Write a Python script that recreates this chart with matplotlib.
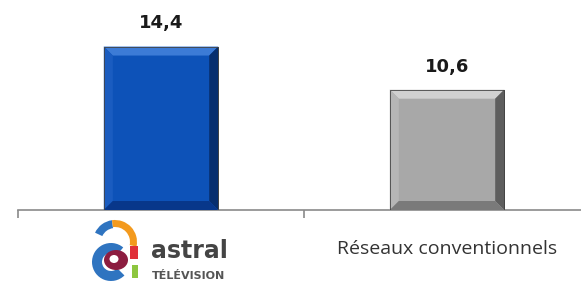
import matplotlib
matplotlib.use("Agg")
import matplotlib.pyplot as plt
from matplotlib.patches import Polygon, Wedge, Rectangle, Ellipse

categories = ["astral", "Réseaux conventionnels"]
values = [14.4, 10.6]
value_labels = ["14,4", "10,6"]

W, H = 581, 284
fig = plt.figure(figsize=(W / 100, H / 100), dpi=100)
# axes spans from x=18px, each category is 286px wide
ax = fig.add_axes([18 / W, 74 / H, 572 / W, 210 / H])
ax.set_xlim(-0.5, 1.5)
ax.set_ylim(0, 18.5)

face = ["#0D52B8", "#A8A8A8"]
light = ["#3C7BD6", "#D0D0D0"]
side_l = ["#1A5CC0", "#B6B6B6"]
dark = ["#072E6E", "#5E5E5E"]
bottom = ["#08378A", "#7A7A7A"]
bw = 0.40

bars = ax.bar(range(len(values)), values, width=bw, color=face, edgecolor="#333333",
              linewidth=0.6, zorder=2)

fig.canvas.draw()
inv = ax.transData.inverted()
bev = 9  # bevel in pixels
p0 = inv.transform((0, 0))
p1 = inv.transform((bev, bev))
bx, by = p1[0] - p0[0], p1[1] - p0[1]

for i, b in enumerate(bars):
    x0, y0 = b.get_x(), 0
    x1, y1 = x0 + b.get_width(), b.get_height()
    polys = [
        ([(x0, y1), (x1, y1), (x1 - bx, y1 - by), (x0 + bx, y1 - by)], light[i]),
        ([(x0, y0), (x0 + bx, y0 + by), (x0 + bx, y1 - by), (x0, y1)], side_l[i]),
        ([(x1, y0), (x1, y1), (x1 - bx, y1 - by), (x1 - bx, y0 + by)], dark[i]),
        ([(x0, y0), (x1, y0), (x1 - bx, y0 + by), (x0 + bx, y0 + by)], bottom[i]),
    ]
    for pts, c in polys:
        ax.add_patch(Polygon(pts, closed=True, facecolor=c, edgecolor="none", zorder=3))
    ax.add_patch(Rectangle((x0, y0), x1 - x0, y1, facecolor="none",
                           edgecolor="#444444", linewidth=0.6, zorder=4))
    ax.annotate(value_labels[i], (b.get_x() + b.get_width() / 2, y1),
                xytext=(0, 13), textcoords="offset points", ha="center", va="baseline",
                fontsize=13, fontweight="bold", color="#1a1a1a")

for s in ["top", "right", "left"]:
    ax.spines[s].set_visible(False)
ax.spines["bottom"].set_color("#8a8a8a")
ax.spines["bottom"].set_linewidth(1.2)
ax.set_yticks([])
ax.set_xticks([-0.5, 0.5])
ax.set_xticklabels([])
ax.tick_params(axis="x", length=6, color="#8a8a8a", width=1.2)

# second category label
ax.text(1, -3.4, categories[1], ha="center", va="center", fontsize=14,
        family="Open Sans", color="#333333")

# astral logo
lg = fig.add_axes([0, 0, 1, 1], zorder=5)
lg.set_xlim(0, W)
lg.set_ylim(H, 0)
lg.axis("off")
# hook: blue left part, orange arc over the top and down the stem
lg.add_patch(Wedge((115, 242), 22, 205, 262, width=8, facecolor="#2F74C0", edgecolor="none"))
lg.add_patch(Wedge((115, 242), 22, 262, 372, width=7, facecolor="#F39A1E", edgecolor="none"))
# bowl
lg.add_patch(Wedge((111, 262), 19, 45, 310, width=10, facecolor="#2F74C0", edgecolor="none"))
lg.add_patch(Ellipse((116, 260), 24, 20, facecolor="#8C1D40", edgecolor="none"))
lg.add_patch(Ellipse((114, 259), 9, 8, facecolor="white", edgecolor="none"))
# stem
lg.add_patch(Rectangle((130, 246), 8, 13, facecolor="#E0313A", edgecolor="none"))
lg.add_patch(Rectangle((132, 265), 6, 13, facecolor="#8DC63F", edgecolor="none"))
lg.text(151, 251, categories[0], ha="left", va="center", fontsize=17,
        fontweight="bold", color="#444444")
lg.text(152, 276, "TÉLÉVISION", ha="left", va="center", fontsize=8,
        fontweight="bold", color="#555555")

fig.savefig("out.png", dpi=100)
